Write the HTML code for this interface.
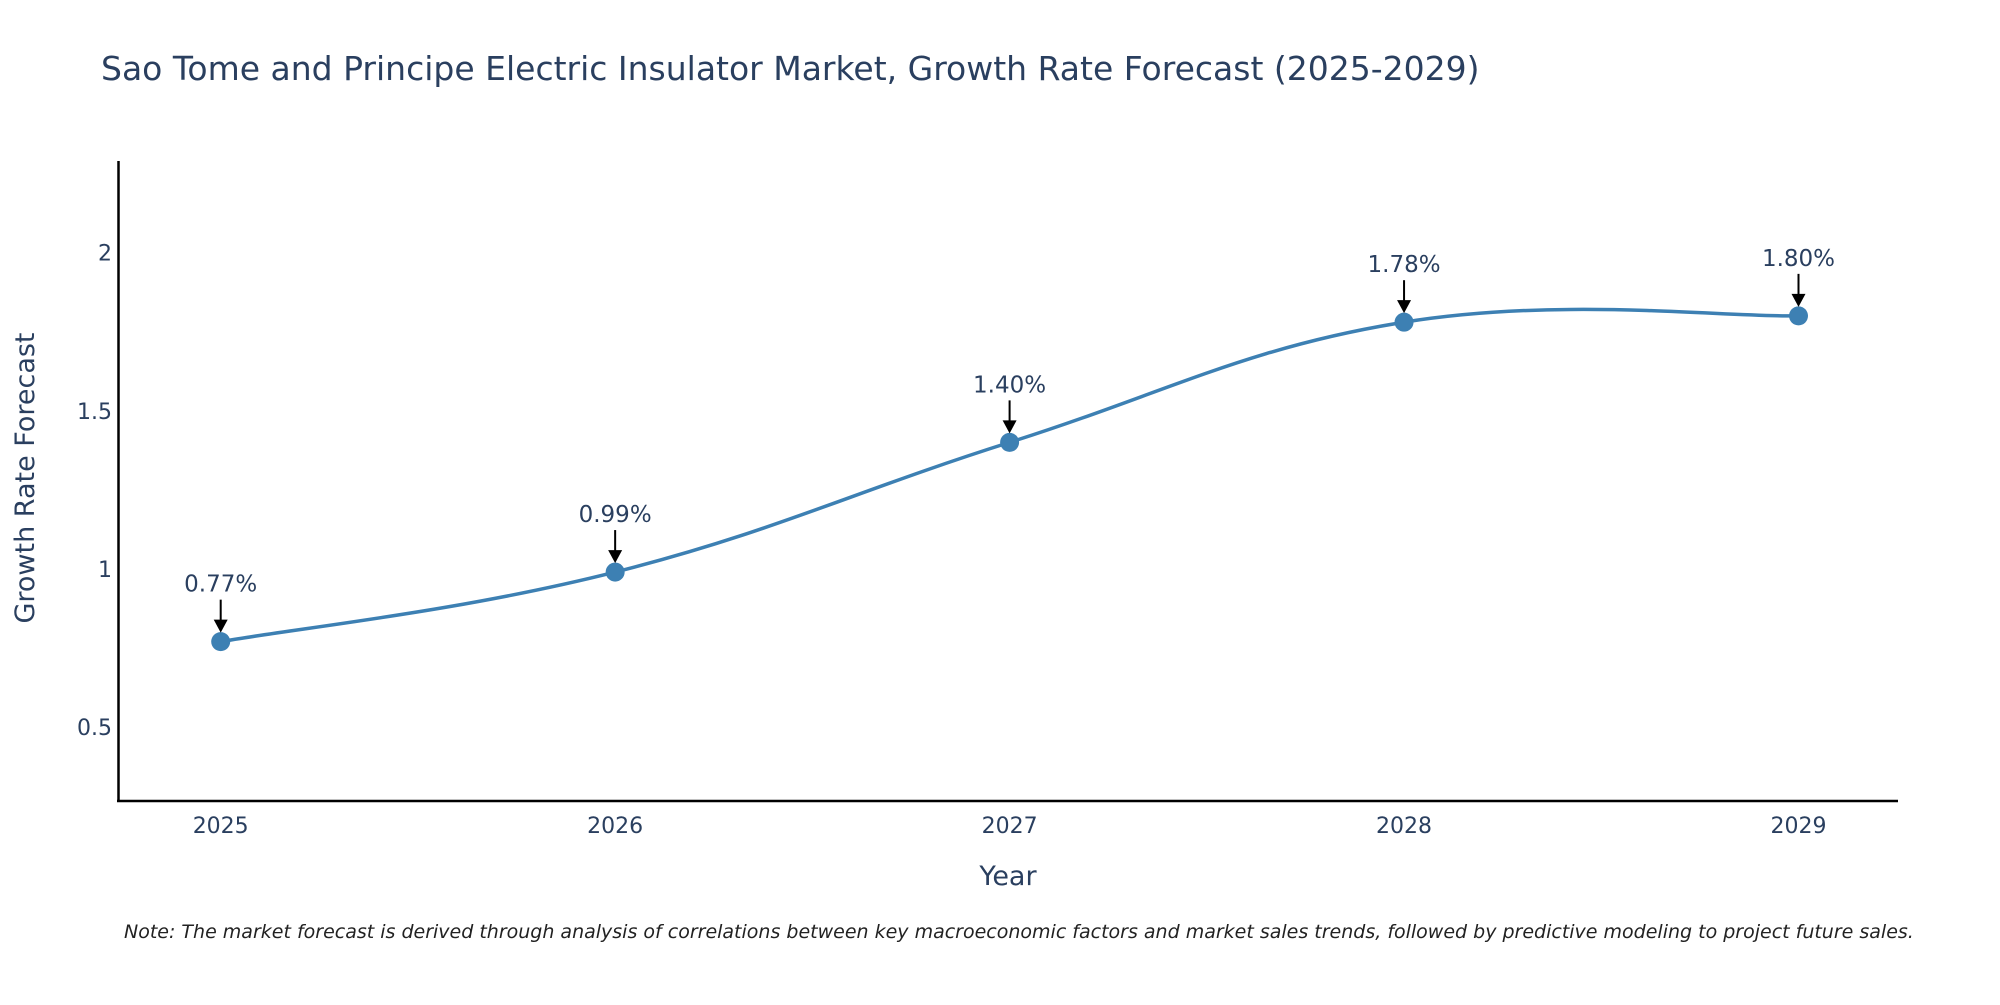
<!DOCTYPE html>
<html><head><meta charset="utf-8"><style>
body{margin:0;background:#fff;}
svg text{font-family:"DejaVu Sans",sans-serif;fill:#2a3f5f;}
</style></head><body>
<svg id="chart" width="2000" height="1000" viewBox="0 0 2000 1000">
<text x="101" y="80" font-size="33">Sao Tome and Principe Electric Insulator Market, Growth Rate Forecast (2025-2029)</text>
<g id="yticks"></g><g id="xticks"></g>
<line x1="118.5" y1="161" x2="118.5" y2="802" stroke="#000" stroke-width="2.5"/>
<line x1="117" y1="801" x2="1898" y2="801" stroke="#000" stroke-width="2.5"/>
<path id="line" fill="none" stroke="#3d80b3" stroke-width="3.5"/>
<g id="marks"></g>
<text x="1008" y="885" font-size="27" text-anchor="middle">Year</text>
<text transform="translate(34,478) rotate(-90)" font-size="27" text-anchor="middle">Growth Rate Forecast</text>
<text x="124" y="938" font-size="19" font-style="italic" style="fill:#222">Note: The market forecast is derived through analysis of correlations between key macroeconomic factors and market sales trends, followed by predictive modeling to project future sales.</text>
</svg>
<script>
const years=["2025","2026","2027","2028","2029"];
const values=[0.77,0.99,1.40,1.78,1.80];
const labels=["0.77%","0.99%","1.40%","1.78%","1.80%"];
const yTicks=[0.5,1,1.5,2];
const NS="http://www.w3.org/2000/svg";
const xs=i=>220.7+i*(1798.5-220.7)/(years.length-1);
const ys=v=>252.6-(v-2)*316.3;
function mk(t,a,p){const e=document.createElementNS(NS,t);for(const k in a)e.setAttribute(k,a[k]);p.appendChild(e);return e;}
const yt=document.getElementById('yticks');
yTicks.forEach(v=>{const t=mk('text',{x:112,y:ys(v)+8,'font-size':22,'text-anchor':'end'},yt);t.textContent=String(v);

});
const xt=document.getElementById('xticks');
years.forEach((y,i)=>{const t=mk('text',{x:xs(i),y:833,'font-size':22,'text-anchor':'middle'},xt);t.textContent=y;

});
const P=values.map((v,i)=>[xs(i),ys(v)]);
let d=`M${P[0][0]},${P[0][1]}`;
for(let i=0;i<P.length-1;i++){const p0=P[Math.max(i-1,0)],p1=P[i],p2=P[i+1],p3=P[Math.min(i+2,P.length-1)];
const k=0.2;
d+=` C${p1[0]+(p2[0]-p0[0])*k},${p1[1]+(p2[1]-p0[1])*k} ${p2[0]-(p3[0]-p1[0])*k},${p2[1]-(p3[1]-p1[1])*k} ${p2[0]},${p2[1]}`;}
document.getElementById('line').setAttribute('d',d);
const g=document.getElementById('marks');
P.forEach((p,i)=>{
const c=mk('circle',{cx:p[0],cy:p[1],r:9.5,fill:'#3d80b3'},g);


const l=mk('line',{x1:p[0],y1:p[1]-42,x2:p[0],y2:p[1]-20,stroke:'#000','stroke-width':2},g);


const a=mk('path',{d:`M${p[0]-7},${p[1]-22} L${p[0]+7},${p[1]-22} L${p[0]},${p[1]-9} Z`,fill:'#000'},g);


const t=mk('text',{x:p[0],y:p[1]-50,'font-size':23,'text-anchor':'middle'},g);t.textContent=labels[i];


});
</script>
</body></html>
